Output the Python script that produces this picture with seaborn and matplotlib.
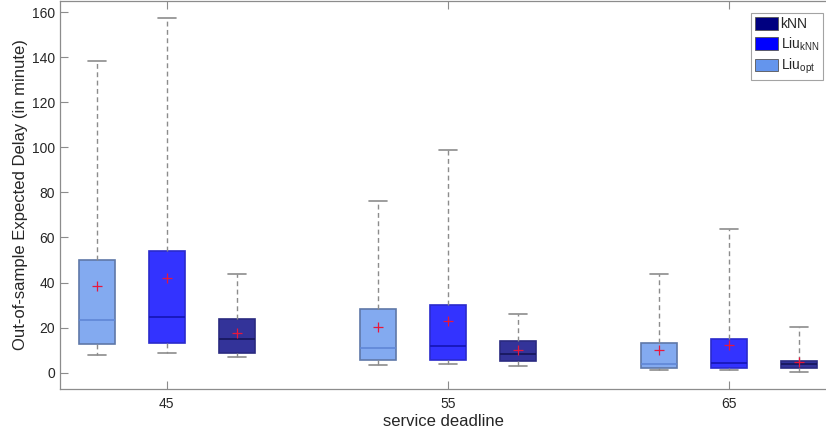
import numpy as np
import pandas as pd
import matplotlib
matplotlib.use("Agg")
import matplotlib.pyplot as plt
from matplotlib.patches import Patch
import seaborn as sns

# Service deadlines (group centres on the x axis)
deadlines = [45, 55, 65]

# Box summaries per method: lower whisker, Q1, median, Q3, upper whisker, mean
liu_opt_low = [7.9, 3.4, 1.3]
liu_opt_q1 = [12.7, 5.6, 2.1]
liu_opt_med = [23.6, 11.0, 3.9]
liu_opt_q3 = [49.8, 28.1, 13.0]
liu_opt_high = [138.2, 76.4, 44.0]
liu_opt_mean = [38.7, 20.1, 10.1]

liu_knn_low = [8.7, 3.9, 1.3]
liu_knn_q1 = [13.3, 5.6, 2.2]
liu_knn_med = [24.7, 11.9, 4.3]
liu_knn_q3 = [54.1, 29.9, 14.8]
liu_knn_high = [157.3, 98.7, 63.6]
liu_knn_mean = [41.9, 23.0, 12.4]

knn_low = [7.0, 3.0, 0.3]
knn_q1 = [8.6, 5.3, 2.1]
knn_med = [15.0, 8.3, 3.8]
knn_q3 = [23.8, 14.2, 5.0]
knn_high = [43.9, 26.1, 20.4]
knn_mean = [17.6, 10.2, 4.6]

legend_labels = ["kNN", r"Liu$_{\mathregular{kNN}}$", r"Liu$_{\mathregular{opt}}$"]

methods = [
    # name, stats, means, offset, fill, edge, median colour
    ("Liu_opt", (liu_opt_low, liu_opt_q1, liu_opt_med, liu_opt_q3, liu_opt_high), liu_opt_mean,
     -2.49, "#83AAF0", "#5f78a8", "#5f87d6"),
    ("Liu_kNN", (liu_knn_low, liu_knn_q1, liu_knn_med, liu_knn_q3, liu_knn_high), liu_knn_mean,
     0.0, "#3333FF", "#2a2acc", "#1414b4"),
    ("kNN", (knn_low, knn_q1, knn_med, knn_q3, knn_high), knn_mean,
     2.49, "#333399", "#2a2a80", "#16165a"),
]

sns.set_theme(style="white")
plt.rcParams["font.family"] = ["Liberation Sans", "DejaVu Sans"]
plt.rcParams["mathtext.default"] = "regular"

fig = plt.figure(figsize=(8.26, 4.38), dpi=100)
ax = fig.add_axes([60 / 826, 1 - 389 / 438, 1 - 60 / 826, 388 / 438])

gray = "#8c8c8c"
for name, stats, means, off, fill, edge, medc in methods:
    rows = []
    for i, d in enumerate(deadlines):
        for s in stats:
            rows.append({"pos": d + off, "delay": s[i]})
    df = pd.DataFrame(rows)
    sns.boxplot(
        data=df, x="pos", y="delay", native_scale=True, orient="x",
        width=0.128, whis=(0, 100), color=fill, saturation=1,
        linecolor=edge, linewidth=1.2, ax=ax,
        boxprops=dict(edgecolor=edge),
        medianprops=dict(color=medc, linewidth=1.2),
        whiskerprops=dict(color=gray, linestyle=(0, (3.5, 2.5)), linewidth=1.0),
        capprops=dict(color=gray, linewidth=1.2),
    )
    xs = [d + off for d in deadlines]
    ax.plot(xs, means, linestyle="none", marker="+", color="#e8173c",
            markersize=6.5, markeredgewidth=0.9, zorder=5)

ax.set_xlim(41.21, 68.44)
ax.set_ylim(-7.2, 164.9)
ax.set_xticks(deadlines)
ax.set_xticklabels([str(d) for d in deadlines])
ax.set_yticks(np.arange(0, 161, 20))

ax.set_xlabel("service deadline", fontsize=12, color="#262626", labelpad=2)
ax.set_ylabel("Out-of-sample Expected Delay (in minute)", fontsize=12, color="#262626", labelpad=3)

ax.tick_params(axis="both", direction="in", length=5.5, width=0.8, colors=gray,
               labelcolor="#262626", labelsize=10, top=True, bottom=True, left=True)
ax.tick_params(axis="x", pad=6)
for side, sp in ax.spines.items():
    sp.set_color(gray)
    sp.set_linewidth(0.9)
ax.spines["right"].set_visible(False)

handles = [Patch(facecolor=c, edgecolor="#555555", linewidth=0.6)
           for c in ["#000080", "#0000FF", "#6495ED"]]
leg = ax.legend(handles, legend_labels, loc="upper right",
                bbox_to_anchor=(0.9957, 0.968), borderaxespad=0,
                fontsize=10, handlelength=1.7, handleheight=1.05,
                handletextpad=0.15, labelspacing=0.3, borderpad=0.25,
                frameon=True, fancybox=False)
leg.get_frame().set_edgecolor(gray)
leg.get_frame().set_linewidth(0.8)

fig.savefig("out.png", dpi=100)
